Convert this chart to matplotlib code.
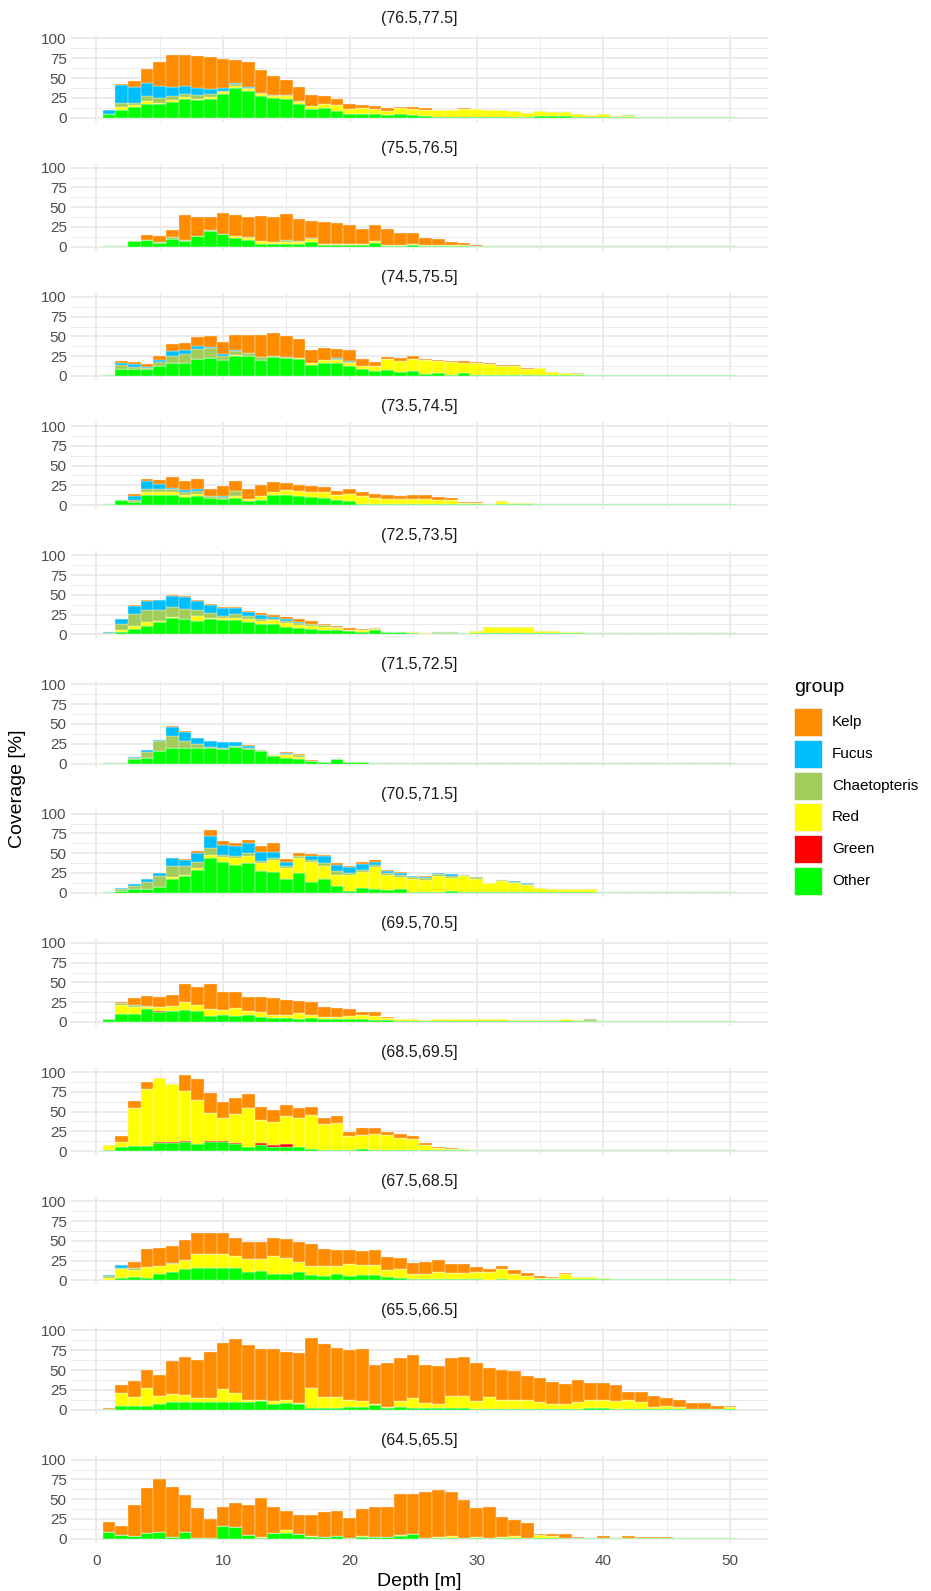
import numpy as np
import matplotlib.pyplot as plt
from matplotlib.patches import Rectangle

plt.rcParams['font.family'] = ['Liberation Sans', 'DejaVu Sans']

# facets, top to bottom
strips = ['(76.5,77.5]', '(75.5,76.5]', '(74.5,75.5]', '(73.5,74.5]', '(72.5,73.5]',
          '(71.5,72.5]', '(70.5,71.5]', '(69.5,70.5]', '(68.5,69.5]', '(67.5,68.5]',
          '(65.5,66.5]', '(64.5,65.5]']
depth = np.arange(1, 51)

# coverage per depth bin (1..50 m); short rows continue with zeros
other = [
    [4, 10, 13, 17, 17, 20, 24, 22, 24, 30, 37, 34, 27, 25, 24, 17, 11, 12, 8, 5, 5, 5, 3, 4, 3, 2, 1, 1, 1, 1.2,
     1.2, 1, 1, 1.2, 2, 2, 2, 1, 1.2, 1.2, 1.2, 1.2, 1.2, 1.2, 1.2, 1.2, 1.2, 1.2, 1.2, 1.2],
    [1.2, 1.2, 7, 9, 5, 10, 7, 14, 19.5, 16, 11, 9, 4, 3, 4, 3, 6, 2.5, 2.5, 2, 2, 5, 1, 1, 2.5, 1, 1.2, 1.2, 1.2, 1.2,
     1.2, 1.2, 1.2, 1.2, 1.2, 1.2, 1.2, 1.2, 1.2, 1.2, 1.2, 1.2, 1.2, 1.2, 1.2, 1.2, 1.2, 1.2, 1.2, 1.2],
    [1.2, 9, 9, 8.5, 12, 17, 16, 22, 22.5, 20, 25, 25, 20, 24, 22.5, 21, 13.5, 16, 16, 13, 8.5, 6, 7, 5.5, 6, 2.5, 3.4, 1.7, 3.4, 1,
     1.2, 1.2, 1.2, 1.2, 1.2, 1.2, 1.2, 1.2, 1.2, 1.2, 1.2, 1.2, 1.2, 1.2, 1.2, 1.2, 1.2, 1.2, 1.2, 1.2],
    [1.2, 6, 4, 13, 13, 13, 10, 11, 8.5, 7.6, 9.3, 5.5, 6.8, 12.7, 12.7, 11, 10, 8.5, 6, 5, 1, 1, 1, 1.2, 1.2, 1.2, 1.2, 1.2, 1.2, 1.2,
     1.2, 1.2, 1.2, 1.2, 1.2, 1.2, 1.2, 1.2, 1.2, 1.2, 1.2, 1.2, 1.2, 1.2, 1.2, 1.2, 1.2, 1.2, 1.2, 1.2],
    [1, 3.4, 7, 10, 16, 21, 19.5, 17, 19.5, 17.8, 18.2, 16, 12.7, 12.7, 9.7, 8.5, 6.8, 5, 5.5, 4.2, 3.4, 5, 2.5, 2.5, 1.7, 1, 1.3, 1.3, 1.3, 1.2,
     1.2, 1.2, 1.2, 1.2, 1.2, 1.2, 1.2, 1.2, 1.2, 1.4, 1.4, 1.4, 1.4, 1.4, 1.4, 1.4, 1.4, 1.4, 1.4, 1.4],
    [1.2, 1.2, 5.5, 7.6, 15.3, 19.5, 19.5, 19.5, 19.5, 17.8, 21, 17.8, 15.3, 9.3, 6.8, 6, 3.4, 1.7, 5.5, 2.5, 2, 1.2, 1.2, 1.2, 1.2, 1.2, 1.2, 1.2, 1.2, 1.2,
     1.2, 1.2, 1.2, 1.2, 1.2, 1.2, 1.2, 1.2, 1.2, 1.2, 1.2, 1.2, 1.2, 1.2, 1.2, 1.2, 1.2, 1.2, 1.2, 1.2],
    [1.2, 2.5, 4.2, 5, 7.6, 17.8, 21, 28.8, 43.6, 39.4, 35, 37.3, 28, 26.3, 17, 25.4, 14, 17, 8.5, 2.5, 5.5, 5, 3.4, 4.2, 1, 1, 1.5, 2.5, 1, 1,
     1.2, 1.5, 1, 1, 1.2, 1.2, 1.2, 1.2, 1.5, 1, 1, 1, 1.5, 1.2, 1.2, 1.2, 1.2, 1.2, 1.2, 1.2],
    [4.2, 9.7, 9.7, 16, 12.7, 14.4, 15.3, 13.5, 7.6, 8.5, 7.6, 8.5, 6.8, 5, 5, 4.2, 5, 4.2, 4.2, 4.2, 4.2, 2.5, 2.5, 1.7, 1.7, 1.7, 1.5, 1.5, 1.5, 1.5,
     1.5, 1.5, 1.2, 1.2, 1.2, 1.2, 1.2, 1.2, 1.2, 1.4, 1.4, 1.4, 1.4, 1.4, 1.4, 1.4, 1.4, 1.4, 1.4, 1.4],
    [1, 5.5, 6, 6.8, 10, 9.7, 12, 8.5, 12, 12, 8.5, 5, 7.6, 5.5, 5, 5, 2.5, 1.7, 1.7, 1.7, 2.5, 1.7, 1.7, 1, 1.7, 1.2, 1.2, 1.2, 1.2, 1,
     1, 1, 1.5, 1.5, 1.5, 1.5, 1.5, 1.5, 1.5, 1.5, 1.2, 1.2, 1.2, 1.2, 1.2, 1.2, 1.2, 1.2, 1.2, 1.2],
    [1, 2.5, 4.2, 3.4, 7.6, 10, 14, 15, 15.3, 15.3, 15.3, 11, 12, 8.5, 8.5, 10, 6.8, 6, 7.6, 6, 6.8, 6.8, 4.2, 2.5, 1.7, 2, 1.7, 1.7, 1.7, 1.3,
     1, 1.3, 1, 1, 1.2, 1.2, 1.2, 1.2, 1.2, 1.2, 1.2, 1.2, 1.2, 1.2, 1.2, 1.2, 1.2, 1.2, 1.2, 1.2],
    [1.2, 5, 5, 5, 7.6, 9.7, 9.3, 9.3, 10, 9.3, 9.3, 9.3, 11, 6.8, 8.5, 6.8, 2.5, 2.5, 2.5, 3.4, 3.4, 6, 2.5, 3.4, 2.5, 1.7, 1.7, 2.5, 2.5, 1,
     1, 1.3, 1.3, 1.3, 1.2, 1.2, 1.2, 1.2, 2.5, 2.5, 1, 1.2, 1.2, 1.2, 1.2, 1.2, 1.2, 1.2, 1.2, 1.2],
    [8.5, 4.2, 3.4, 7.6, 8.5, 2.5, 8.5, 1.3, 1, 16, 14.4, 4.2, 1.3, 7.6, 6.8, 6, 2.5, 1.7, 3.4, 1, 1.7, 1.7, 1.7, 3.4, 6, 1, 1, 1, 1, 1,
     1.2, 1.2, 1.2, 1.2, 1, 1.2, 1.2, 1.2, 1.2, 1.2, 1.2, 1.2, 1.2, 1.2, 1.2, 1.2, 1.2, 1.2, 1.2, 1.2],
]
green = [
    [], [], [], [], [], [], [],
    [0, 0, 0, 0, 1.3],
    [0, 0, 0, 0, 2, 1.3, 0.7, 0, 0.7, 0.7, 1.2, 0.5, 2.1, 2.1, 3.5],
    [], [], [],
]
red = [
    [0, 3, 3, 4, 2, 2, 2, 2, 2, 2, 3, 2, 3, 2, 3, 3, 3, 5, 8, 6, 7, 6, 5, 8, 8, 8, 8, 8, 10, 9, 8, 9, 7, 5, 6, 5, 5, 4, 2.5, 3.5, 0.5, 0.5],
    [0, 0, 0, 0, 0, 0, 0, 0, 0, 0, 3, 2, 3, 3, 2.5, 2.5, 4, 1, 1.5, 2, 1.4, 2, 1, 1, 1.5, 1.5, 1.4, 1.1, 1.1],
    [0, 0, 0, 0, 0, 0, 0, 0, 0, 0, 1, 0, 0, 0, 0, 2, 2.5, 4, 4, 3, 4.2, 6.7, 14, 14, 15, 17.5, 15.2, 16.1, 13.6, 15, 13.8, 11.4, 11.4,
     7.9, 8.7, 4.4, 1.9, 0.9, 0, 0, 0, 0.6],
    [0, 0, 0, 3, 3, 3, 3, 3, 0, 0, 1.7, 2.1, 5.2, 4.3, 6.3, 6.8, 7, 8.5, 6.7, 9.4, 10, 8.3, 6.6, 6.4, 6.4, 6.4, 5.9, 4.9, 1.9, 1.4,
     0.7, 3.6, 1.4, 1.1],
    [0, 2.1, 3, 6, 1, 1, 0, 6, 1.5, 3.2, 2.8, 3.5, 4.3, 5.5, 4.7, 3.5, 4.2, 4.3, 3, 1.8, 2.1, 1.8, 0.9, 0.9, 0.8, 0.7, 0, 0, 0, 3.6,
     7.9, 7.9, 7.9, 7.9, 2.8, 2.8, 1.9, 1.9, 0.7],
    [0, 0, 0, 0, 0, 0, 0, 0, 0, 0, 0, 0, 0, 0.9, 4.2, 2.5],
    [0, 0, 0, 0, 0, 1.7, 2, 2.6, 4.4, 5.6, 8.6, 9.3, 9.3, 15.2, 14, 18.2, 25.4, 17, 14, 20, 21.2, 27, 18.6, 15.3, 16, 15, 19.5, 16.1,
     20, 16.8, 11.4, 12.9, 11, 8.3, 4.4, 3.6, 3.6, 3.6, 2.7],
    [0, 12.3, 9.8, 3.5, 5.5, 5.9, 9.3, 7.5, 8.4, 6.8, 10.2, 5.9, 5.2, 4.3, 3.5, 6.8, 3.5, 2.6, 2.6, 3.4, 4.3, 5.1, 2.5, 2.5, 1.7, 0.8,
     1.9, 2.7, 2.7, 2.7, 1.9, 1.9, 0.8, 0.8, 0.8, 1.4, 1.9, 1.4],
    [6.6, 6.5, 48, 71.2, 80.4, 73.7, 63.3, 56.5, 35.3, 28.8, 36.9, 48.5, 29.3, 28.8, 36.5, 36.5, 43.3, 32.3, 33.9, 17.3, 17.8, 20.3,
     18.6, 16, 13.6, 6.2, 2.8, 1.9, 1.1],
    [2.4, 11.5, 8.5, 13.6, 10.6, 11, 11.4, 18, 17.7, 17.7, 15.2, 16, 15, 22.9, 19.5, 12.9, 11.8, 12.6, 11, 15, 12.7, 12.7, 8.5, 11.9,
     6.8, 6.5, 8.3, 7.6, 7.6, 9.7, 10, 12.7, 6.6, 5, 1.9, 1.9, 7, 2.8, 2.8, 1.9],
    [0, 15.3, 11, 21.7, 9.4, 9.8, 8.5, 4.7, 4.4, 16.1, 11.7, 2.7, 1.7, 4.2, 4.2, 1.7, 24.2, 12.8, 12.8, 8.6, 7.6, 1, 0.9, 7.6, 11.5,
     6.8, 5.1, 14.5, 14.5, 10, 14.3, 11.4, 11.4, 10.7, 7.9, 5.4, 5.4, 7.9, 10.2, 10.2, 10, 11.4, 7.9, 1.9, 3.6, 1.9, 0, 0, 0, 1.4],
    [0, 0, 0, 0, 0, 0, 0, 0, 0, 0, 0, 0, 1.2, 0, 4.2, 0, 0.9, 0, 0, 0, 1.7, 0, 0, 0.8, 0, 0, 0.7, 2.4, 0, 0.7, 0, 1.1, 1.9, 0, 3.2, 2.8],
]
chaet = [
    [0, 5, 2, 6, 6, 5, 4, 5, 4, 2, 2, 1, 1, 2, 1, 1, 0, 0, 0, 0, 0, 0, 0, 0, 0, 0, 0, 0, 0, 0, 0, 0, 0, 0, 0, 0, 0, 0, 0, 0, 0, 1],
    [0, 0, 0, 0, 1, 2, 1.5, 0, 2, 0, 0, 1, 0, 0, 1.5, 1.5, 1],
    [0, 4.5, 2, 1.5, 6, 8, 12, 12, 12.5, 5, 6, 4, 4.5, 1, 1.5, 0, 0, 0, 1.5, 1.5, 0, 0, 0, 0, 0, 0, 0, 0, 0, 0, 0, 0, 0, 0, 0, 0, 0, 1],
    [0, 0, 3, 5, 4, 4, 3, 4, 2.5, 2.1, 7],
    [1, 7.2, 15.4, 14.5, 13.5, 13, 12.5, 8, 6.5, 2.7, 5, 4.2, 2.5, 1.8, 2.6, 2.4, 1.7, 2.1, 0.8, 0, 0, 0.8, 0, 0, 0, 0, 1.2, 1.2],
    [0, 0, 2.1, 6.4, 12.7, 15.2, 9.3, 5.1, 1.5, 1.7, 1.5, 1.7, 1.2, 0, 1.7, 2.5],
    [0, 1.7, 4.3, 9, 13.4, 14.5, 11, 7.6, 8, 3.3, 3, 3.4, 2.7, 2.1, 3, 3, 2.6, 4, 5.5, 2.5, 2.1, 2.7, 2.6, 2.5, 2.5, 2.5, 2.7, 2.4,
     1, 1.7, 0, 1.6, 1, 1.7],
    [0, 2, 1.5, 1, 0, 0, 0, 1, 0, 0, 0, 0, 0, 0, 0, 0, 0, 0, 0, 0, 0, 0, 0, 0, 0, 0, 0, 0, 0, 0, 0, 0, 0, 0, 0, 0, 0, 0, 1.9],
    [],
    [1.6, 2, 2.6, 0, 0, 1.5],
    [],
    [],
]
fucus = [
    [6, 23, 21, 17, 15, 12, 10, 8, 6, 3, 2, 2],
    [],
    [0, 2.5, 4, 1, 2, 6, 5, 4, 1, 3, 1, 0, 0, 0, 0, 0, 0, 0, 1.5, 1.5],
    [0, 0, 5, 9, 7, 2, 3.5, 2, 0, 2.3],
    [1, 6.8, 11, 11.9, 12.7, 13.3, 14.6, 11.4, 9.8, 9.3, 7, 4.3, 5.1, 2, 2.5, 1.6, 0.8],
    [0, 0, 0.9, 3, 1.7, 11.1, 10.6, 7.4, 7.8, 7.2, 4.5, 3, 0, 0, 0.8],
    [0, 1.8, 2.5, 3, 4.4, 9.6, 7.5, 11, 16, 12.7, 11.9, 12.7, 12, 8.4, 5.4, 0, 4.6, 8.6, 7, 7, 7.6, 4.3, 2.9, 2.6, 1.5, 1.5, 1.7,
     2.7, 0, 0, 0, 0, 1.4, 1.7],
    [],
    [],
    [1.8, 3.5, 0.7],
    [],
    [],
]
kelp = [
    [0, 2, 7, 17, 30, 40, 39, 41, 40, 37, 29, 31, 29, 23, 20, 18, 14, 10, 8, 6, 4, 4, 4, 1, 2, 2, 1, 1, 1],
    [0, 0, 0, 6, 8, 9, 31.5, 24, 16.5, 27, 26, 25, 32, 32, 33, 28, 21, 27.5, 26, 23, 18.6, 20, 20, 16, 14, 8, 7, 4.3, 2.8, 0.5],
    [0, 3.5, 3, 3.5, 5, 10, 8.5, 11, 15, 15, 19, 23, 27.5, 29, 27, 24, 17, 15, 11, 14, 9.3, 5.3, 3.5, 3.5, 4.5, 1.5, 1.4, 1.7, 1.6,
     1.8, 1.3, 1.5, 1.5, 1.2, 0, 0, 0, 0.9],
    [0, 1, 1.5, 3, 5, 13, 11, 13, 9, 11.7, 12, 13.4, 14, 12, 9, 8.2, 6.7, 5.5, 5.1, 5.6, 5, 5.1, 5.4, 4.4, 5, 5, 2.8, 3, 0.9, 1.4],
    [0, 0, 0.6, 1.2, 0.4, 1.3, 1.7, 0.6, 1.2, 1, 2, 2, 2.4, 2.6, 3, 3.5, 3.5, 2.1, 1.7, 2.5, 1.3],
    [0, 0, 0, 0, 0, 1.2, 1.3, 0, 0, 0.8, 0.5, 1.2, 0.5, 0.8, 0.9, 1.7, 0.8],
    [0, 0, 0, 0, 0, 0, 1.5, 3.4, 7, 4, 4.2, 4.3, 6.5, 10.7, 3.8, 3.4, 2.1, 1.3, 3, 2, 2.1, 2.5, 1.3, 1.7, 0.5, 1, 0, 0, 0, 0.5,
     0, 0, 0, 0, 1],
    [0, 1.4, 8.7, 12.5, 11.5, 13.7, 23.7, 22, 31.5, 22.7, 20.2, 17.6, 20, 21.2, 19.5, 16, 16.1, 12.7, 10.2, 8.4, 4.2, 4.4, 1.8],
    [0, 6.6, 9.5, 10, 0, 0, 19.8, 25.7, 25, 20.4, 20.4, 18, 17, 15.6, 13.5, 13.5, 10.2, 7.5, 9.4, 5.6, 8.5, 6.8, 3.4, 5, 3.7, 2.5,
     0.8, 0.9],
    [0, 0, 7.7, 23, 23.3, 21.5, 25.6, 26.3, 26.3, 26.3, 23.5, 22, 22, 22.6, 24.5, 25.4, 27.2, 20.4, 19.4, 17, 17.8, 19.5, 17.3,
     13.6, 13.5, 15.2, 15.4, 11.5, 11.5, 6, 3.4, 4.6, 5.9, 3.7, 2.5, 1.7, 0.9, 0, 0, 0, 0.6, 0.6],
    [1.1, 10.7, 19.6, 23.3, 26.2, 41.5, 49.2, 48.7, 58.9, 58.6, 68, 69.8, 64.3, 66, 60.3, 62.5, 64, 67.7, 62.7, 63.4, 66, 49, 55.1,
     54, 55, 47.5, 48.2, 48, 49, 47.5, 36.7, 37.3, 36.3, 30.4, 30.9, 28, 26, 27.9, 21.3, 21.3, 20.4, 10, 12.5, 13.5, 10.2, 9.5, 7, 7,
     2.8, 2.2],
    [12.5, 11.8, 39.8, 56.8, 66.9, 63.5, 46.5, 37.7, 23.6, 23.8, 31.4, 38.2, 49.2, 32.2, 24.6, 23.7, 27.1, 32.3, 31.3, 25.3, 33.9,
     38.1, 38.1, 52.2, 50, 57.5, 60.2, 55.1, 48, 37.7, 38.4, 25, 21.2, 18.9, 1.3, 1.6, 4.9, 0.7, 0, 2.8, 0, 2.8, 0.4, 1.1, 0.4],
]

groups = ['Kelp', 'Fucus', 'Chaetopteris', 'Red', 'Green', 'Other']
colours = {'Kelp': '#FF8C00', 'Fucus': '#00BFFF', 'Chaetopteris': '#A2CD5A',
           'Red': '#FFFF00', 'Green': '#FF0000', 'Other': '#00FF00'}
series = {'Other': other, 'Green': green, 'Red': red,
          'Chaetopteris': chaet, 'Fucus': fucus, 'Kelp': kelp}


def row(values):
    v = np.zeros(len(depth))
    v[:len(values)] = values
    return v


W, H = 931, 1591
fig = plt.figure(figsize=(W / 100, H / 100), dpi=100)

for i, title in enumerate(strips):
    top = 34.5 + i * 129.2
    ax = fig.add_axes([71 / W, 1 - (top + 87) / H, 697 / W, 87 / H])
    base = np.zeros(len(depth))
    for g in ['Other', 'Green', 'Red', 'Chaetopteris', 'Fucus', 'Kelp']:
        vals = row(series[g][i])
        ax.bar(depth, vals, width=1, bottom=base, color=colours[g],
               edgecolor='#F4F4F4', linewidth=0.25, zorder=3)
        base += vals
    ax.set_xlim(-2, 53)
    ax.set_ylim(-5, 105)
    ax.set_xticks(range(0, 51, 10))
    ax.set_xticks(range(5, 50, 10), minor=True)
    ax.set_yticks([0, 25, 50, 75, 100])
    ax.set_yticks([12.5, 37.5, 62.5, 87.5], minor=True)
    ax.grid(which='major', color='#EBEBEB', linewidth=1.4, zorder=0)
    ax.grid(which='minor', color='#EBEBEB', linewidth=0.7, zorder=0)
    ax.set_axisbelow(True)
    for s in ax.spines.values():
        s.set_visible(False)
    ax.tick_params(which='both', length=0, labelsize=11, colors='#4D4D4D', pad=3)
    if i < len(strips) - 1:
        ax.set_xticklabels([])
    else:
        ax.tick_params(axis='x', pad=8)
    ax.set_title(title, fontsize=11.5, color='#1A1A1A', pad=8)

fig.text(18 / W, 1 - 789 / H, 'Coverage [%]', rotation=90, ha='center', va='center', fontsize=14)
fig.text(419 / W, 1 - 1582 / H, 'Depth [m]', ha='center', va='center', fontsize=14)

# legend
fig.text(794 / W, 1 - 688 / H, 'group', ha='left', va='center', fontsize=14)
for j, g in enumerate(groups):
    yc = 722 + j * 31.8
    fig.patches.append(Rectangle((794 / W, 1 - (yc + 14) / H), 28 / W, 28 / H,
                                 transform=fig.transFigure, facecolor=colours[g],
                                 edgecolor='#F4F4F4', linewidth=0.5))
    fig.text(832 / W, 1 - yc / H, g, ha='left', va='center', fontsize=11)

fig.savefig('out.png', dpi=100)
